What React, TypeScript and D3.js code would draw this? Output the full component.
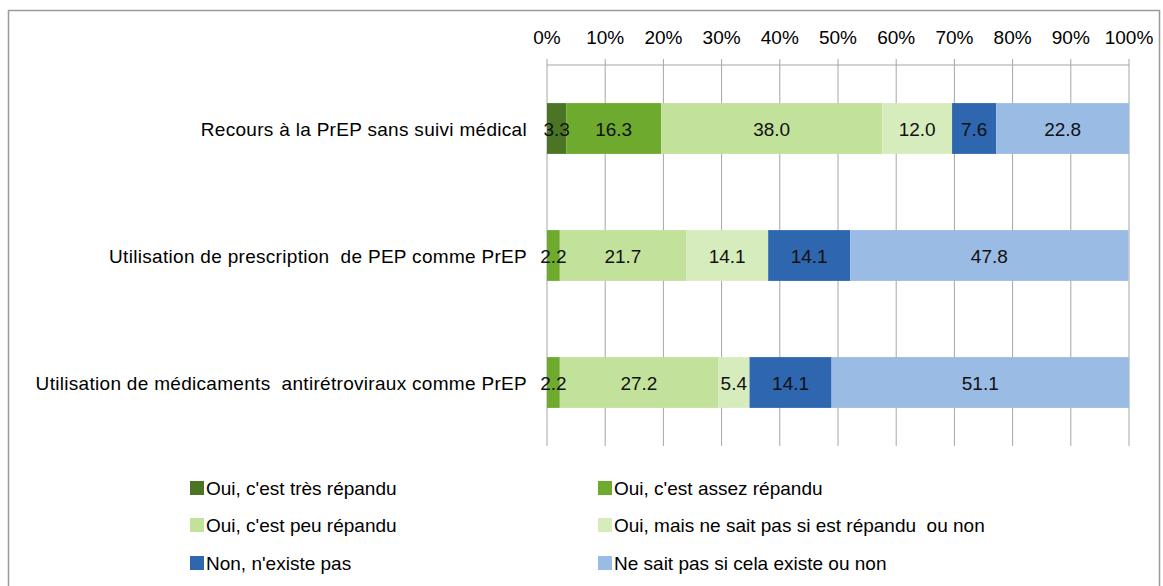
import React, { useEffect, useRef } from "react";
import * as d3 from "d3";

const categories = [
  "Recours à la PrEP sans suivi médical",
  "Utilisation de prescription  de PEP comme PrEP",
  "Utilisation de médicaments  antirétroviraux comme PrEP",
];

const seriesNames = [
  "Oui, c'est très répandu",
  "Oui, c'est assez répandu",
  "Oui, c'est peu répandu",
  "Oui, mais ne sait pas si est répandu  ou non",
  "Non, n'existe pas",
  "Ne sait pas si cela existe ou non",
];

const seriesColors = ["#4b7424", "#6eaa2e", "#c2e29b", "#d7ecbc", "#2e66b0", "#99bbe4"];

// one array per series, values in the category order
const tresRepandu = [3.3, 0, 0];
const assezRepandu = [16.3, 2.2, 2.2];
const peuRepandu = [38.0, 21.7, 27.2];
const neSaitPasSiRepandu = [12.0, 14.1, 5.4];
const nExistePas = [7.6, 14.1, 14.1];
const neSaitPas = [22.8, 47.8, 51.1];

const seriesValues = [tresRepandu, assezRepandu, peuRepandu, neSaitPasSiRepandu, nExistePas, neSaitPas];

const tickValues = [0, 10, 20, 30, 40, 50, 60, 70, 80, 90, 100];

const FONT = "'Liberation Sans', Arial, sans-serif";
const FS = "19px";

const App = () => {
  const svgRef = useRef<SVGSVGElement>(null);

  useEffect(() => {
    const svg = d3.select(svgRef.current);
    svg.selectAll("*").remove();

    const width = 1163;
    const height = 586;

    // chart frame
    svg
      .append("rect")
      .attr("x", 8.5)
      .attr("y", 10.5)
      .attr("width", 1151)
      .attr("height", 600)
      .attr("fill", "#fff")
      .attr("stroke", "#9a9a9a")
      .attr("stroke-width", 1.5);

    const x = d3.scaleLinear().domain([0, 100]).range([547, 1129]);
    const y = d3.scaleBand().domain(categories).range([65, 446]).paddingInner(0.6).paddingOuter(0.3);

    // grid
    svg
      .append("g")
      .selectAll("line")
      .data(tickValues)
      .enter()
      .append("line")
      .attr("x1", (d) => x(d))
      .attr("x2", (d) => x(d))
      .attr("y1", 59)
      .attr("y2", 446)
      .attr("stroke", "#a6a6a6")
      .attr("stroke-width", 1);

    svg
      .append("line")
      .attr("x1", x(0))
      .attr("x2", x(100))
      .attr("y1", 65)
      .attr("y2", 65)
      .attr("stroke", "#a6a6a6");

    svg
      .append("g")
      .selectAll("text")
      .data(tickValues)
      .enter()
      .append("text")
      .attr("x", (d) => x(d))
      .attr("y", 44)
      .attr("text-anchor", "middle")
      .style("font-family", FONT)
      .style("font-size", FS)
      .text((d) => `${d}%`);

    // stacked bars
    const rows = categories.map((c, i) => {
      let acc = 0;
      return seriesValues.map((vals, s) => {
        const seg = { cat: c, s, v: vals[i], x0: acc, x1: acc + vals[i] };
        acc += vals[i];
        return seg;
      });
    });
    const segs = rows.flat().filter((d) => d.v > 0);

    const bars = svg.append("g");
    bars
      .selectAll("rect")
      .data(segs)
      .enter()
      .append("rect")
      .attr("x", (d) => x(d.x0))
      .attr("width", (d) => x(d.x1) - x(d.x0))
      .attr("y", (d) => y(d.cat)!)
      .attr("height", y.bandwidth())
      .attr("fill", (d) => seriesColors[d.s]);

    bars
      .selectAll("text")
      .data(segs)
      .enter()
      .append("text")
      .attr("x", (d) => (x(d.x0) + x(d.x1)) / 2)
      .attr("y", (d) => y(d.cat)! + y.bandwidth() / 2 + 7)
      .attr("text-anchor", "middle")
      .style("font-family", FONT)
      .style("font-size", FS)
      .attr("fill", "#111")
      .text((d) => d.v.toFixed(1));

    // category labels
    svg
      .append("g")
      .selectAll("text")
      .data(categories)
      .enter()
      .append("text")
      .attr("x", 527)
      .attr("y", (d) => y(d)! + y.bandwidth() / 2 + 7)
      .attr("text-anchor", "end")
      .style("font-family", FONT)
      .style("font-size", FS)
      .style("letter-spacing", "0.3px")
      .style("white-space", "pre")
      .text((d) => d);

    // legend
    const legend = svg
      .append("g")
      .selectAll("g")
      .data(seriesNames)
      .enter()
      .append("g")
      .attr("transform", (_, i) => `translate(${i % 2 === 0 ? 190 : 598},${[488, 525, 563][Math.floor(i / 2)]})`);

    legend
      .append("rect")
      .attr("x", 0)
      .attr("y", -7)
      .attr("width", 14)
      .attr("height", 14)
      .attr("fill", (_, i) => seriesColors[i]);

    legend
      .append("text")
      .attr("x", 16)
      .attr("y", 7)
      .style("font-family", FONT)
      .style("font-size", FS)
      .style("white-space", "pre")
      .text((d) => d);

    svg.attr("width", width).attr("height", height);
  }, []);

  return (
    <div style={{ position: "absolute", left: 0, top: 0, width: 1163, height: 586, background: "#fff" }}>
      <svg ref={svgRef} width={1163} height={586} style={{ display: "block" }}></svg>
    </div>
  );
};

export default App;
